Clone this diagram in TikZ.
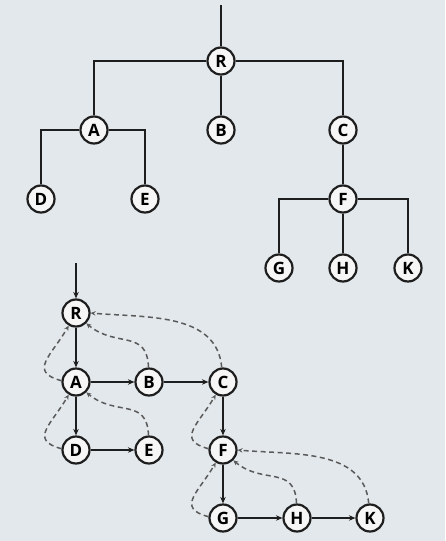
\documentclass[tikz,border=0pt]{standalone}
\usepackage{fontspec}
\setmainfont{Open Sans}
\usetikzlibrary{arrows.meta}
\definecolor{bg}{HTML}{E3E8EC}
\definecolor{nodefill}{HTML}{F6F6F6}
\definecolor{ink}{HTML}{1E1E1E}
\definecolor{dashc}{HTML}{5A5A5A}
\begin{document}
\begin{tikzpicture}[x=1pt,y=-1pt,
  vx/.style={circle,draw=ink,fill=nodefill,line width=2.2pt,minimum size=27pt,inner sep=0pt,
    font=\fontsize{17}{17}\selectfont\bfseries,text=black},
  tree/.style={draw=ink,line width=2.3pt},
  solid arrow/.style={draw=ink,line width=2pt,-{Stealth[length=6.5pt,width=5.5pt]}},
  back/.style={draw=dashc,line width=1.5pt,dash pattern=on 5pt off 3.5pt,-{Stealth[length=5pt,width=4.5pt]}}]
\fill[bg] (0,0) rectangle (445,541);
\useasboundingbox (0,0) rectangle (445,541);
% ---------- top tree ----------
\coordinate (top) at (221,5);
\node[vx] (R) at (221,61) {R};
\node[vx] (A) at (94,130) {A};
\node[vx] (B) at (221,130) {B};
\node[vx] (C) at (343,130) {C};
\node[vx] (D) at (41,199) {D};
\node[vx] (E) at (145,199) {E};
\node[vx] (F) at (343,199) {F};
\node[vx] (G) at (279,268) {G};
\node[vx] (H) at (343,268) {H};
\node[vx] (K) at (408,268) {K};
\draw[tree] (top) -- (R);
\draw[tree] (R) -| (A);
\draw[tree] (R) -- (B);
\draw[tree] (R) -| (C);
\draw[tree] (A) -| (D);
\draw[tree] (A) -| (E);
\draw[tree] (C) -- (F);
\draw[tree] (F) -| (G);
\draw[tree] (F) -- (H);
\draw[tree] (F) -| (K);
% ---------- bottom graph ----------
\coordinate (start) at (76,263);
\node[vx] (R2) at (76,313) {R};
\node[vx] (A2) at (76,382) {A};
\node[vx] (B2) at (149,382) {B};
\node[vx] (C2) at (223,382) {C};
\node[vx] (D2) at (76,450) {D};
\node[vx] (E2) at (149,450) {E};
\node[vx] (F2) at (223,450) {F};
\node[vx] (G2) at (223,518) {G};
\node[vx] (H2) at (297,518) {H};
\node[vx] (K2) at (370,518) {K};
\draw[solid arrow] (start) -- (R2);
\draw[solid arrow] (R2) -- (A2);
\draw[solid arrow] (A2) -- (B2);
\draw[solid arrow] (B2) -- (C2);
\draw[solid arrow] (A2) -- (D2);
\draw[solid arrow] (D2) -- (E2);
\draw[solid arrow] (C2) -- (F2);
\draw[solid arrow] (F2) -- (G2);
\draw[solid arrow] (G2) -- (H2);
\draw[solid arrow] (H2) -- (K2);
% parent pointers
\draw[back] (A2.175) to[out=165,in=240,looseness=1.6] (R2.240);
\draw[back] (B2.92) to[out=92,in=-40,looseness=1.3] (R2.-45);
\draw[back] (C2.95) to[out=95,in=-5,looseness=1.0] (R2.0);
\draw[back] (D2.175) to[out=165,in=240,looseness=1.6] (A2.240);
\draw[back] (E2.92) to[out=92,in=-40,looseness=1.3] (A2.-45);
\draw[back] (F2.175) to[out=165,in=240,looseness=1.6] (C2.240);
\draw[back] (G2.175) to[out=165,in=240,looseness=1.6] (F2.240);
\draw[back] (H2.92) to[out=92,in=-40,looseness=1.3] (F2.-45);
\draw[back] (K2.95) to[out=95,in=-5,looseness=1.0] (F2.0);
\end{tikzpicture}
\end{document}
